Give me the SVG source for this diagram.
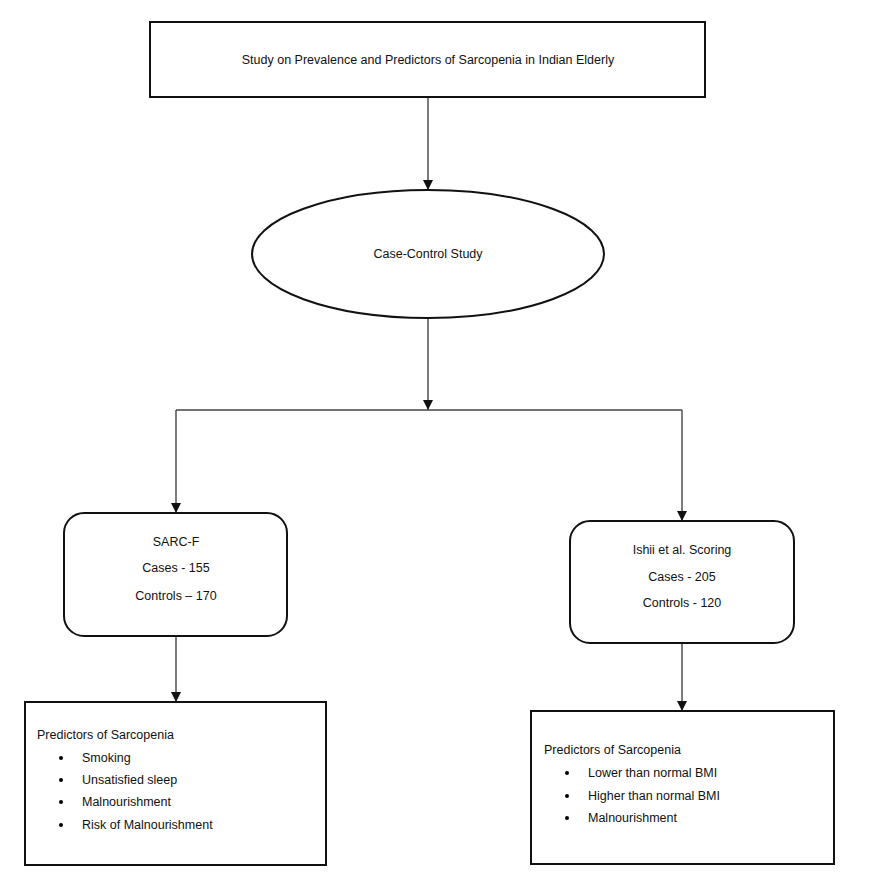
<svg xmlns="http://www.w3.org/2000/svg" width="869" height="872" viewBox="0 0 869 872">
<defs>
<marker id="ah" viewBox="0 0 10 10" refX="10" refY="5" markerWidth="10" markerHeight="10" markerUnits="userSpaceOnUse" orient="auto">
<path d="M0,0 L10,5 L0,10 Z" fill="#111"/>
</marker>
<style>
.box{fill:#fff;stroke:#111;stroke-width:2}
.con{fill:none;stroke:#444;stroke-width:1.4}
text{font-family:"Liberation Sans",Arial,sans-serif;font-size:12.5px;fill:#111}
.c{text-anchor:middle}
</style>
</defs>
<rect width="869" height="872" fill="#fff"/>
<g id="connectors">
<path class="con" d="M428,97 V190" marker-end="url(#ah)"/>
<path class="con" d="M428,318 V410" marker-end="url(#ah)"/>
<path class="con" d="M176,410 H682"/>
<path class="con" d="M176,410 V513" marker-end="url(#ah)"/>
<path class="con" d="M682,410 V521" marker-end="url(#ah)"/>
<path class="con" d="M176,636 V702" marker-end="url(#ah)"/>
<path class="con" d="M682,643 V711" marker-end="url(#ah)"/>
</g>
<g id="title">
<rect class="box" x="150" y="22" width="555" height="75"/>
<text class="c" x="428" y="64">Study on Prevalence and Predictors of Sarcopenia in Indian Elderly</text>
</g>
<g id="casecontrol">
<ellipse class="box" cx="428" cy="254" rx="176" ry="64"/>
<text class="c" x="428" y="258">Case-Control Study</text>
</g>
<g id="sarcf">
<rect class="box" x="64" y="513" width="223" height="123" rx="20" ry="20"/>
<text class="c" x="176" y="546">SARC-F</text>
<text class="c" x="176" y="572">Cases - 155</text>
<text class="c" x="176" y="600">Controls – 170</text>
</g>
<g id="ishii">
<rect class="box" x="570" y="521" width="224" height="122" rx="20" ry="20"/>
<text class="c" x="682" y="554">Ishii et al. Scoring</text>
<text class="c" x="682" y="581">Cases - 205</text>
<text class="c" x="682" y="607">Controls - 120</text>
</g>
<g id="predictors-left">
<rect class="box" x="25" y="702" width="301" height="163"/>
<text x="37" y="739">Predictors of Sarcopenia</text>
<circle cx="61" cy="758" r="2"/>
<text x="82" y="762">Smoking</text>
<circle cx="61" cy="780" r="2"/>
<text x="82" y="784">Unsatisfied sleep</text>
<circle cx="61" cy="802" r="2"/>
<text x="82" y="806">Malnourishment</text>
<circle cx="61" cy="825" r="2"/>
<text x="82" y="829">Risk of Malnourishment</text>
</g>
<g id="predictors-right">
<rect class="box" x="531" y="711" width="303" height="153"/>
<text x="544" y="754">Predictors of Sarcopenia</text>
<circle cx="567" cy="773" r="2"/>
<text x="588" y="777">Lower than normal BMI</text>
<circle cx="567" cy="796" r="2"/>
<text x="588" y="800">Higher than normal BMI</text>
<circle cx="567" cy="818" r="2"/>
<text x="588" y="822">Malnourishment</text>
</g>
</svg>
